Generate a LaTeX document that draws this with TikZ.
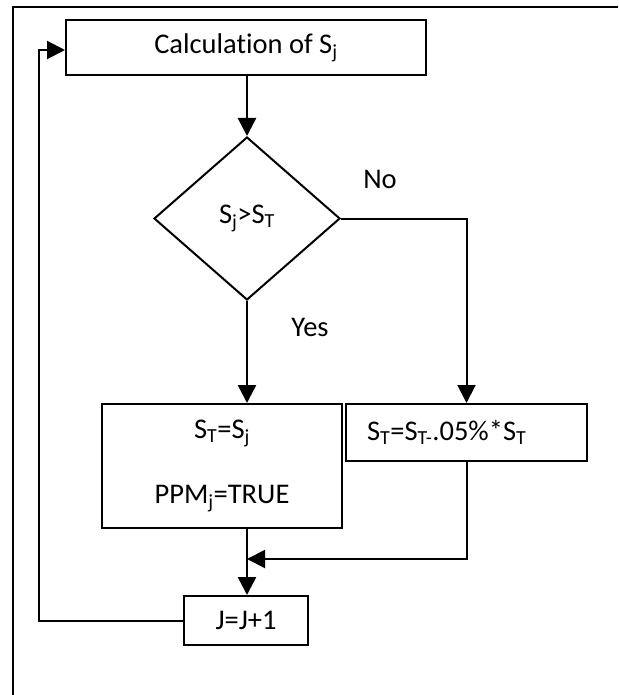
\documentclass[tikz,border=0pt]{standalone}
\usepackage{fontspec}
\setmainfont{Carlito}[Ligatures=NoCommon]
\usetikzlibrary{shapes.geometric,arrows.meta}
\begin{document}
\begin{tikzpicture}[x=1pt,y=-1pt,
  txt/.style={font=\fontsize{28.5}{34}\selectfont},
  box/.style={draw,line width=2pt,rectangle,inner sep=0pt,txt},
  arr/.style={line width=2.6pt,-{Triangle[length=18pt,width=18pt]}},
  thin/.style={line width=2pt}]
\useasboundingbox (0,0) rectangle (618,695);
\coordinate (f1) at (13,695);
\coordinate (f2) at (13,7);
\coordinate (f3) at (618,7);
\draw[line width=2.4pt] (f1) -- (f2) -- (f3);
\node[box,minimum width=360pt,minimum height=55pt] (calc) at (246,47.5) {Calculation of S\textsubscript{j}};
\node[box,diamond,minimum width=186pt,minimum height=163pt] (dia) at (247,218.5) {S\textsubscript{j}>S\textsubscript{T}};
\node[box,minimum width=240pt,minimum height=124pt,align=center] (lbox) at (222,466) {S\textsubscript{T}=S\textsubscript{j}\\[31pt]PPM\textsubscript{j}=TRUE};
\node[box,minimum height=57pt,text width=199pt,inner xsep=21pt,align=left] (rbox) at (466.5,432.5) {S\textsubscript{T}=S\textsubscript{T-}.05\%*S\textsubscript{T}};
\node[box,minimum width=124pt,minimum height=49pt] (jbox) at (246,620.5) {J=J+1};
\node[txt] (no) at (380,179) {No};
\node[txt] (yes) at (310,327) {Yes};
\coordinate (m) at (247,559);
\coordinate (l1) at (39,620.5);
\coordinate (l2) at (39,50);
\draw[arr] (dia.north |- calc.south) -- (dia.north);
\draw[arr] (dia.south) -- (dia.south |- lbox.north);
\draw[arr,thin] (dia.east) -| (rbox.north);
\draw[arr,thin] (rbox.south) |- (m);
\draw[arr] (dia.south |- lbox.south) -- (dia.south |- jbox.north);
\draw[arr,thin] (jbox.west) -- (l1) -- (l2) -- (l2 -| calc.west);
\end{tikzpicture}
\end{document}
